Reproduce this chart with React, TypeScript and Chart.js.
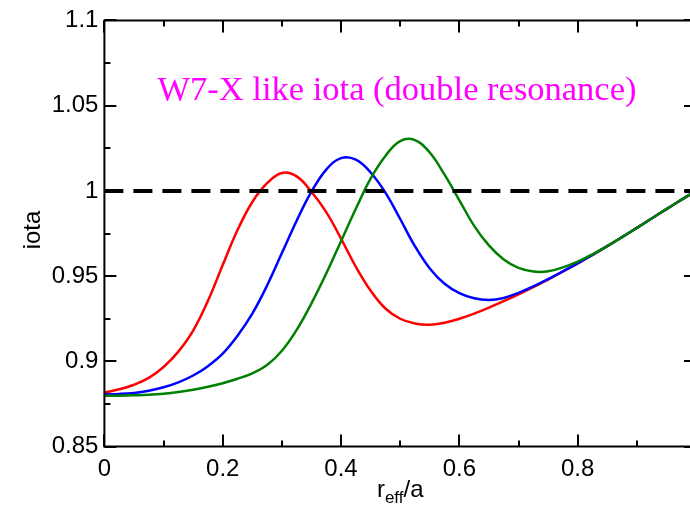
import React, { useEffect, useRef } from "react";
import { Chart, registerables } from "chart.js";

Chart.register(...registerables);

const rEff = [0, 0.025, 0.05, 0.075, 0.1, 0.125, 0.15, 0.175, 0.2, 0.225, 0.25, 0.275, 0.3, 0.325, 0.35, 0.375, 0.4, 0.425, 0.45, 0.475, 0.5, 0.525, 0.55, 0.575, 0.6, 0.625, 0.65, 0.675, 0.7, 0.725, 0.75, 0.775, 0.8, 0.825, 0.85, 0.875, 0.9, 0.925, 0.95, 0.975, 1.0];

const iotaRed = [0.8817, 0.8836, 0.8863, 0.8903, 0.8967, 0.9057, 0.918, 0.9355, 0.9565, 0.977, 0.9935, 1.0045, 1.0105, 1.0085, 0.9995, 0.9875, 0.972, 0.9555, 0.9415, 0.931, 0.925, 0.9222, 0.9215, 0.9227, 0.925, 0.928, 0.9315, 0.9353, 0.9393, 0.9435, 0.948, 0.9527, 0.9575, 0.9625, 0.9676, 0.9729, 0.9783, 0.9838, 0.9893, 0.9947, 1.0];

const iotaBlue = [0.8807, 0.8809, 0.8815, 0.8828, 0.8848, 0.8877, 0.8917, 0.8972, 0.9045, 0.915, 0.928, 0.9445, 0.9635, 0.9825, 0.9995, 1.0125, 1.0192, 1.0183, 1.0108, 0.999, 0.9835, 0.9675, 0.9545, 0.9455, 0.94, 0.937, 0.936, 0.9372, 0.9402, 0.944, 0.9482, 0.9528, 0.9575, 0.9625, 0.9676, 0.9729, 0.9783, 0.9838, 0.9893, 0.9947, 1.0];

const iotaGreen = [0.8798, 0.8799, 0.8801, 0.8804, 0.881, 0.882, 0.8834, 0.8851, 0.8872, 0.8898, 0.893, 0.8978, 0.9062, 0.9185, 0.934, 0.9515, 0.9705, 0.9895, 1.0072, 1.0205, 1.0292, 1.0298, 1.0225, 1.0095, 0.9945, 0.9795, 0.968, 0.9597, 0.9548, 0.9527, 0.9528, 0.9551, 0.9585, 0.9628, 0.9676, 0.9729, 0.9783, 0.9838, 0.9893, 0.9947, 1.0];

const resonanceX = [0, 1];
const resonanceY = [1, 1];

const xMajorTicks = [0, 0.2, 0.4, 0.6, 0.8, 1.0];
const xMinorTicks = [0.1, 0.3, 0.5, 0.7, 0.9];
const yMajorTicks = [0.85, 0.9, 0.95, 1.0, 1.05, 1.1];
const yMinorTicks = [0.875, 0.925, 0.975, 1.025, 1.075];

const titleText = "W7-X like iota (double resonance)";

const toPoints = (xs: number[], ys: number[]) => xs.map((x, i) => ({ x, y: ys[i] }));

const framePlugin = {
  id: "framePlugin",
  afterDraw(chart: any) {
    const { ctx, chartArea, scales } = chart;
    const { left, right, top, bottom } = chartArea;
    const xs = scales.x;
    const ys = scales.y;
    ctx.save();
    ctx.strokeStyle = "#000";
    ctx.lineWidth = 2;
    ctx.beginPath();
    ctx.rect(left, top, right - left, bottom - top);
    ctx.stroke();
    const drawX = (vals: number[], len: number) => {
      vals.forEach((v) => {
        const p = Math.round(xs.getPixelForValue(v));
        ctx.beginPath();
        ctx.moveTo(p, bottom);
        ctx.lineTo(p, bottom - len);
        ctx.moveTo(p, top);
        ctx.lineTo(p, top + len);
        ctx.stroke();
      });
    };
    const drawY = (vals: number[], len: number) => {
      vals.forEach((v) => {
        const p = Math.round(ys.getPixelForValue(v));
        ctx.beginPath();
        ctx.moveTo(left, p);
        ctx.lineTo(left + len, p);
        ctx.moveTo(right, p);
        ctx.lineTo(right - len, p);
        ctx.stroke();
      });
    };
    drawX(xMajorTicks, 12);
    drawX(xMinorTicks, 6);
    drawY(yMajorTicks, 12);
    drawY(yMinorTicks, 6);

    // title inside plot
    ctx.fillStyle = "#ff00ff";
    ctx.font = '34.5px "Liberation Serif"';
    ctx.textAlign = "center";
    ctx.textBaseline = "alphabetic";
    ctx.fillText(titleText, 397, 100);

    // y axis title
    ctx.fillStyle = "#000";
    ctx.save();
    ctx.translate(33, 230);
    ctx.rotate(-Math.PI / 2);
    ctx.font = '24px "Liberation Sans"';
    ctx.textAlign = "center";
    ctx.textBaseline = "middle";
    ctx.fillText("iota", 0, 0);
    ctx.restore();

    // x axis title with subscript
    const cx = (left + right) / 2;
    ctx.textAlign = "left";
    ctx.textBaseline = "alphabetic";
    const big = '24px "Liberation Sans"';
    const small = '17px "Liberation Sans"';
    ctx.font = big;
    const wR = ctx.measureText("r").width;
    const wA = ctx.measureText("/a").width;
    ctx.font = small;
    const wE = ctx.measureText("eff").width;
    const total = wR + wE + wA;
    let x0 = cx - total / 2;
    const base = 497;
    ctx.font = big;
    ctx.fillText("r", x0, base);
    x0 += wR;
    ctx.font = small;
    ctx.fillText("eff", x0, base + 6);
    x0 += wE;
    ctx.font = big;
    ctx.fillText("/a", x0, base);
    ctx.restore();
  },
};

export default function App() {
  const ref = useRef<HTMLCanvasElement | null>(null);
  useEffect(() => {
    if (!ref.current) return;
    const chart = new Chart(ref.current, {
      type: "line",
      data: {
        datasets: [
          {
            data: toPoints(resonanceX, resonanceY),
            borderColor: "#000",
            borderWidth: 4,
            borderDash: [19, 10],
            pointRadius: 0,
          },
          {
            data: toPoints(rEff, iotaGreen),
            borderColor: "#008000",
            borderWidth: 2.5,
            pointRadius: 0,
            tension: 0.4,
          },
          {
            data: toPoints(rEff, iotaBlue),
            borderColor: "#0000ff",
            borderWidth: 2.5,
            pointRadius: 0,
            tension: 0.4,
          },
          {
            data: toPoints(rEff, iotaRed),
            borderColor: "#ff0000",
            borderWidth: 2.5,
            pointRadius: 0,
            tension: 0.4,
          },
        ],
      },
      options: {
        animation: false,
        responsive: false,
        maintainAspectRatio: false,
        layout: { padding: { top: 15, right: 24, bottom: 0, left: 0 } },
        plugins: { legend: { display: false }, tooltip: { enabled: false }, title: { display: false } },
        scales: {
          x: {
            type: "linear",
            min: 0,
            max: 1,
            grid: { display: false, drawTicks: false },
            border: { display: false },
            ticks: {
              stepSize: 0.2,
              padding: 8,
              color: "#000",
              font: { family: "Liberation Sans", size: 24 },
              callback: (v: any) => String(Number(Number(v).toFixed(2))),
            },
            afterFit: (s: any) => {
              s.height = 59.4;
            },
          },
          y: {
            type: "linear",
            min: 0.85,
            max: 1.1,
            grid: { display: false, drawTicks: false },
            border: { display: false },
            ticks: {
              stepSize: 0.05,
              padding: 6,
              color: "#000",
              font: { family: "Liberation Sans", size: 24 },
              callback: (v: any) => String(Number(Number(v).toFixed(2))),
            },
            afterFit: (s: any) => {
              s.width = 104.4;
            },
          },
        },
      },
      plugins: [framePlugin],
    });
    return () => chart.destroy();
  }, []);
  return (
    <div style={{ position: "fixed", left: 0, top: 0, width: 690, height: 506, overflow: "hidden", background: "#fff" }}>
      <canvas ref={ref} width={720} height={506} style={{ display: "block" }} />
    </div>
  );
}
